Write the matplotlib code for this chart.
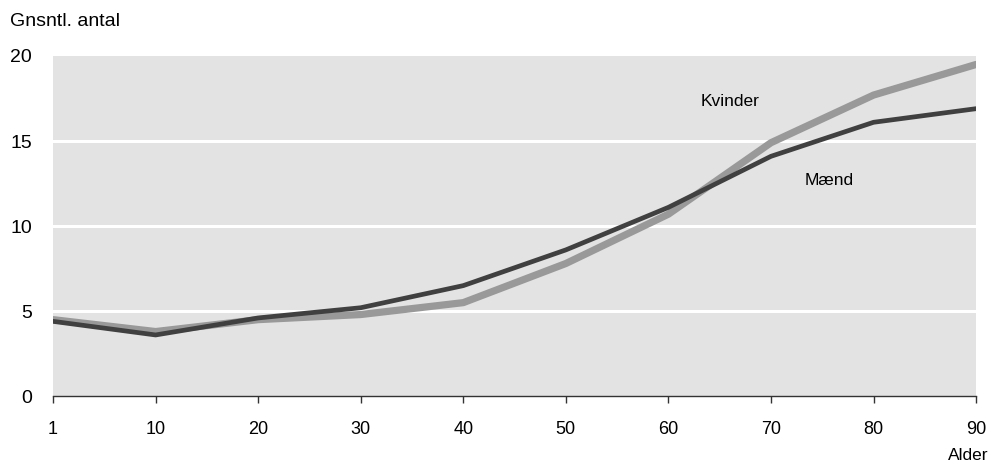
import matplotlib
matplotlib.use("Agg")
import matplotlib.pyplot as plt

ages = ["1", "10", "20", "30", "40", "50", "60", "70", "80", "90"]
kvinder = [4.5, 3.8, 4.5, 4.8, 5.5, 7.8, 10.7, 14.9, 17.7, 19.5]
maend = [4.4, 3.6, 4.6, 5.2, 6.5, 8.6, 11.1, 14.1, 16.1, 16.9]
yticks = [0, 5, 10, 15, 20]

plt.rcParams['font.family'] = ['Liberation Sans', 'DejaVu Sans']

fig = plt.figure(figsize=(9.91, 4.70), dpi=100)
ax = fig.add_axes([0.0535, 0.157, 0.9315, 0.724])
ax.set_facecolor('#e3e3e3')
x = list(range(len(ages)))
ax.set_xlim(0, len(ages) - 1)
ax.set_ylim(0, 20)
for yv in yticks[1:-1]:
    ax.axhline(yv, color='white', lw=2.2, zorder=1)
ax.plot(x, kvinder, color='#999999', lw=5.2, solid_capstyle='round', solid_joinstyle='round', zorder=3)
ax.plot(x, maend, color='#404040', lw=3.4, solid_capstyle='round', solid_joinstyle='round', zorder=4)

ax.set_xticks(x)
ax.set_xticklabels(ages, fontsize=13)
ax.set_yticks(yticks)
ax.set_yticklabels([str(v) for v in yticks], fontsize=14)
for s in ['top', 'right', 'left']:
    ax.spines[s].set_visible(False)
ax.spines['bottom'].set_color('#333333')
ax.spines['bottom'].set_linewidth(1.0)
ax.tick_params(axis='x', length=5, width=1, color='#333333', pad=13)
ax.tick_params(axis='y', length=0, pad=15)

ax.text(6.6, 17.3, "Kvinder", fontsize=12.5, ha='center', va='center')
ax.text(7.57, 12.7, "Mænd", fontsize=12.5, ha='center', va='center')

fig.text(10/991, 1 - 22/470, "Gnsntl. antal", fontsize=14, ha='left', va='center')
fig.text(988/991, 1 - 455/470, "Alder", fontsize=12.5, ha='right', va='center')

fig.savefig("out.png", dpi=100)
